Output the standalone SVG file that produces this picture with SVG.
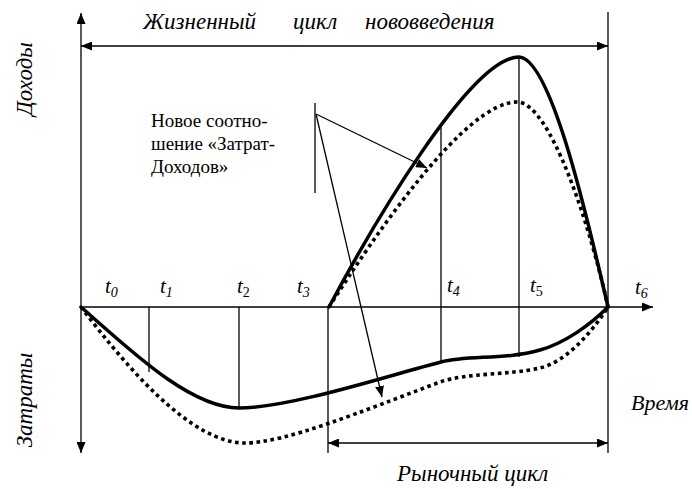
<svg xmlns="http://www.w3.org/2000/svg" width="692" height="489" viewBox="0 0 692 489">
<style>
.it{font-family:"Liberation Serif","Times New Roman",serif;font-style:italic;fill:#000}
.rg{font-family:"Liberation Serif","Times New Roman",serif;fill:#000}
.thin{stroke:#000;stroke-width:1.3;fill:none}
.solid{stroke:#000;stroke-width:3.5;fill:none;stroke-linecap:round}
.dot{stroke:#000;stroke-width:3.6;fill:none;stroke-dasharray:3.6 3.6}
.big{font-size:23px}
.t{font-size:21px}
.sub{font-size:14px}
</style>
<defs>
<marker id="ah" markerUnits="userSpaceOnUse" markerWidth="11" markerHeight="9" refX="11" refY="4.5" orient="auto-start-reverse">
<path d="M0,0 L11,4.5 L0,9 z" fill="#000"/>
</marker>
</defs>
<rect width="692" height="489" fill="#fff"/>
<g id="connectors">
<line class="thin" x1="81" y1="307" x2="81" y2="13" marker-end="url(#ah)"/>
<line class="thin" x1="81" y1="307" x2="81" y2="453" marker-end="url(#ah)"/>
<line class="thin" x1="81" y1="307" x2="653" y2="307" marker-end="url(#ah)"/>
<line class="thin" x1="81" y1="46" x2="608" y2="46" marker-start="url(#ah)" marker-end="url(#ah)"/>
<line class="thin" x1="608" y1="12" x2="608" y2="453"/>
<line class="thin" x1="328" y1="307" x2="328" y2="453"/>
<line class="thin" x1="328" y1="443" x2="608" y2="443" marker-start="url(#ah)" marker-end="url(#ah)"/>
<line class="thin" x1="149" y1="307" x2="149" y2="372"/>
<line class="thin" x1="239" y1="307" x2="239" y2="408"/>
<line class="thin" x1="441" y1="127" x2="441" y2="362"/>
<line class="thin" x1="519" y1="57" x2="519" y2="357"/>
<line class="thin" x1="315" y1="103" x2="315" y2="193"/>
<line class="thin" x1="316" y1="114" x2="427" y2="168" marker-end="url(#ah)"/>
<line class="thin" x1="316" y1="114" x2="382" y2="397" marker-end="url(#ah)"/>
</g>
<g id="income-new">
<path class="dot" d="M329,307 C375,235 465,102 517,102 C550,102 590,225 608,307"/>
</g>
<g id="income">
<path class="solid" d="M329,307 C370,230 470,57 519,57 C552,58 590,230 608,307"/>
</g>
<g id="cost-new">
<path class="dot" d="M81,307 C125,365 190,443 245,443 C285,443 360,412 440,382 C465,373 510,375 540,368 C565,362 590,335 608,307"/>
</g>
<g id="cost">
<path class="solid" d="M81,307 C130,350 190,408 239,408 C290,408 390,375 441,362 C468,355 505,360 540,350 C565,343 590,325 608,307"/>
</g>
<g id="labels">
<text class="it big" x="143" y="29">Жизненный</text>
<text class="it big" x="293" y="29">цикл</text>
<text class="it big" x="365" y="29">нововведения</text>
<text class="it big" transform="translate(32,79) rotate(-90)" text-anchor="middle">Доходы</text>
<text class="it big" transform="translate(32,400) rotate(-90)" text-anchor="middle">Затраты</text>
<text class="it" font-size="22" x="689" y="410" text-anchor="end">Время</text>
<text class="it big" x="397" y="481">Рыночный цикл</text>
<text class="rg" font-size="19"><tspan x="151" y="127">Новое соотно-</tspan><tspan x="151" y="150">шение «Затрат-</tspan><tspan x="151" y="173">Доходов»</tspan></text>
<text class="it t" x="105" y="293">t<tspan class="sub" dy="4">0</tspan></text>
<text class="it t" x="160" y="293">t<tspan class="sub" dy="4">1</tspan></text>
<text class="it t" x="237" y="293">t<tspan class="sub" dy="4" font-style="normal">2</tspan></text>
<text class="it t" x="297" y="293">t<tspan class="sub" dy="4">3</tspan></text>
<text class="it t" x="447" y="292">t<tspan class="sub" dy="4">4</tspan></text>
<text class="it t" x="530" y="292">t<tspan class="sub" dy="4" font-style="normal">5</tspan></text>
<text class="it t" x="635" y="294">t<tspan class="sub" dy="4">6</tspan></text>
</g>
</svg>
